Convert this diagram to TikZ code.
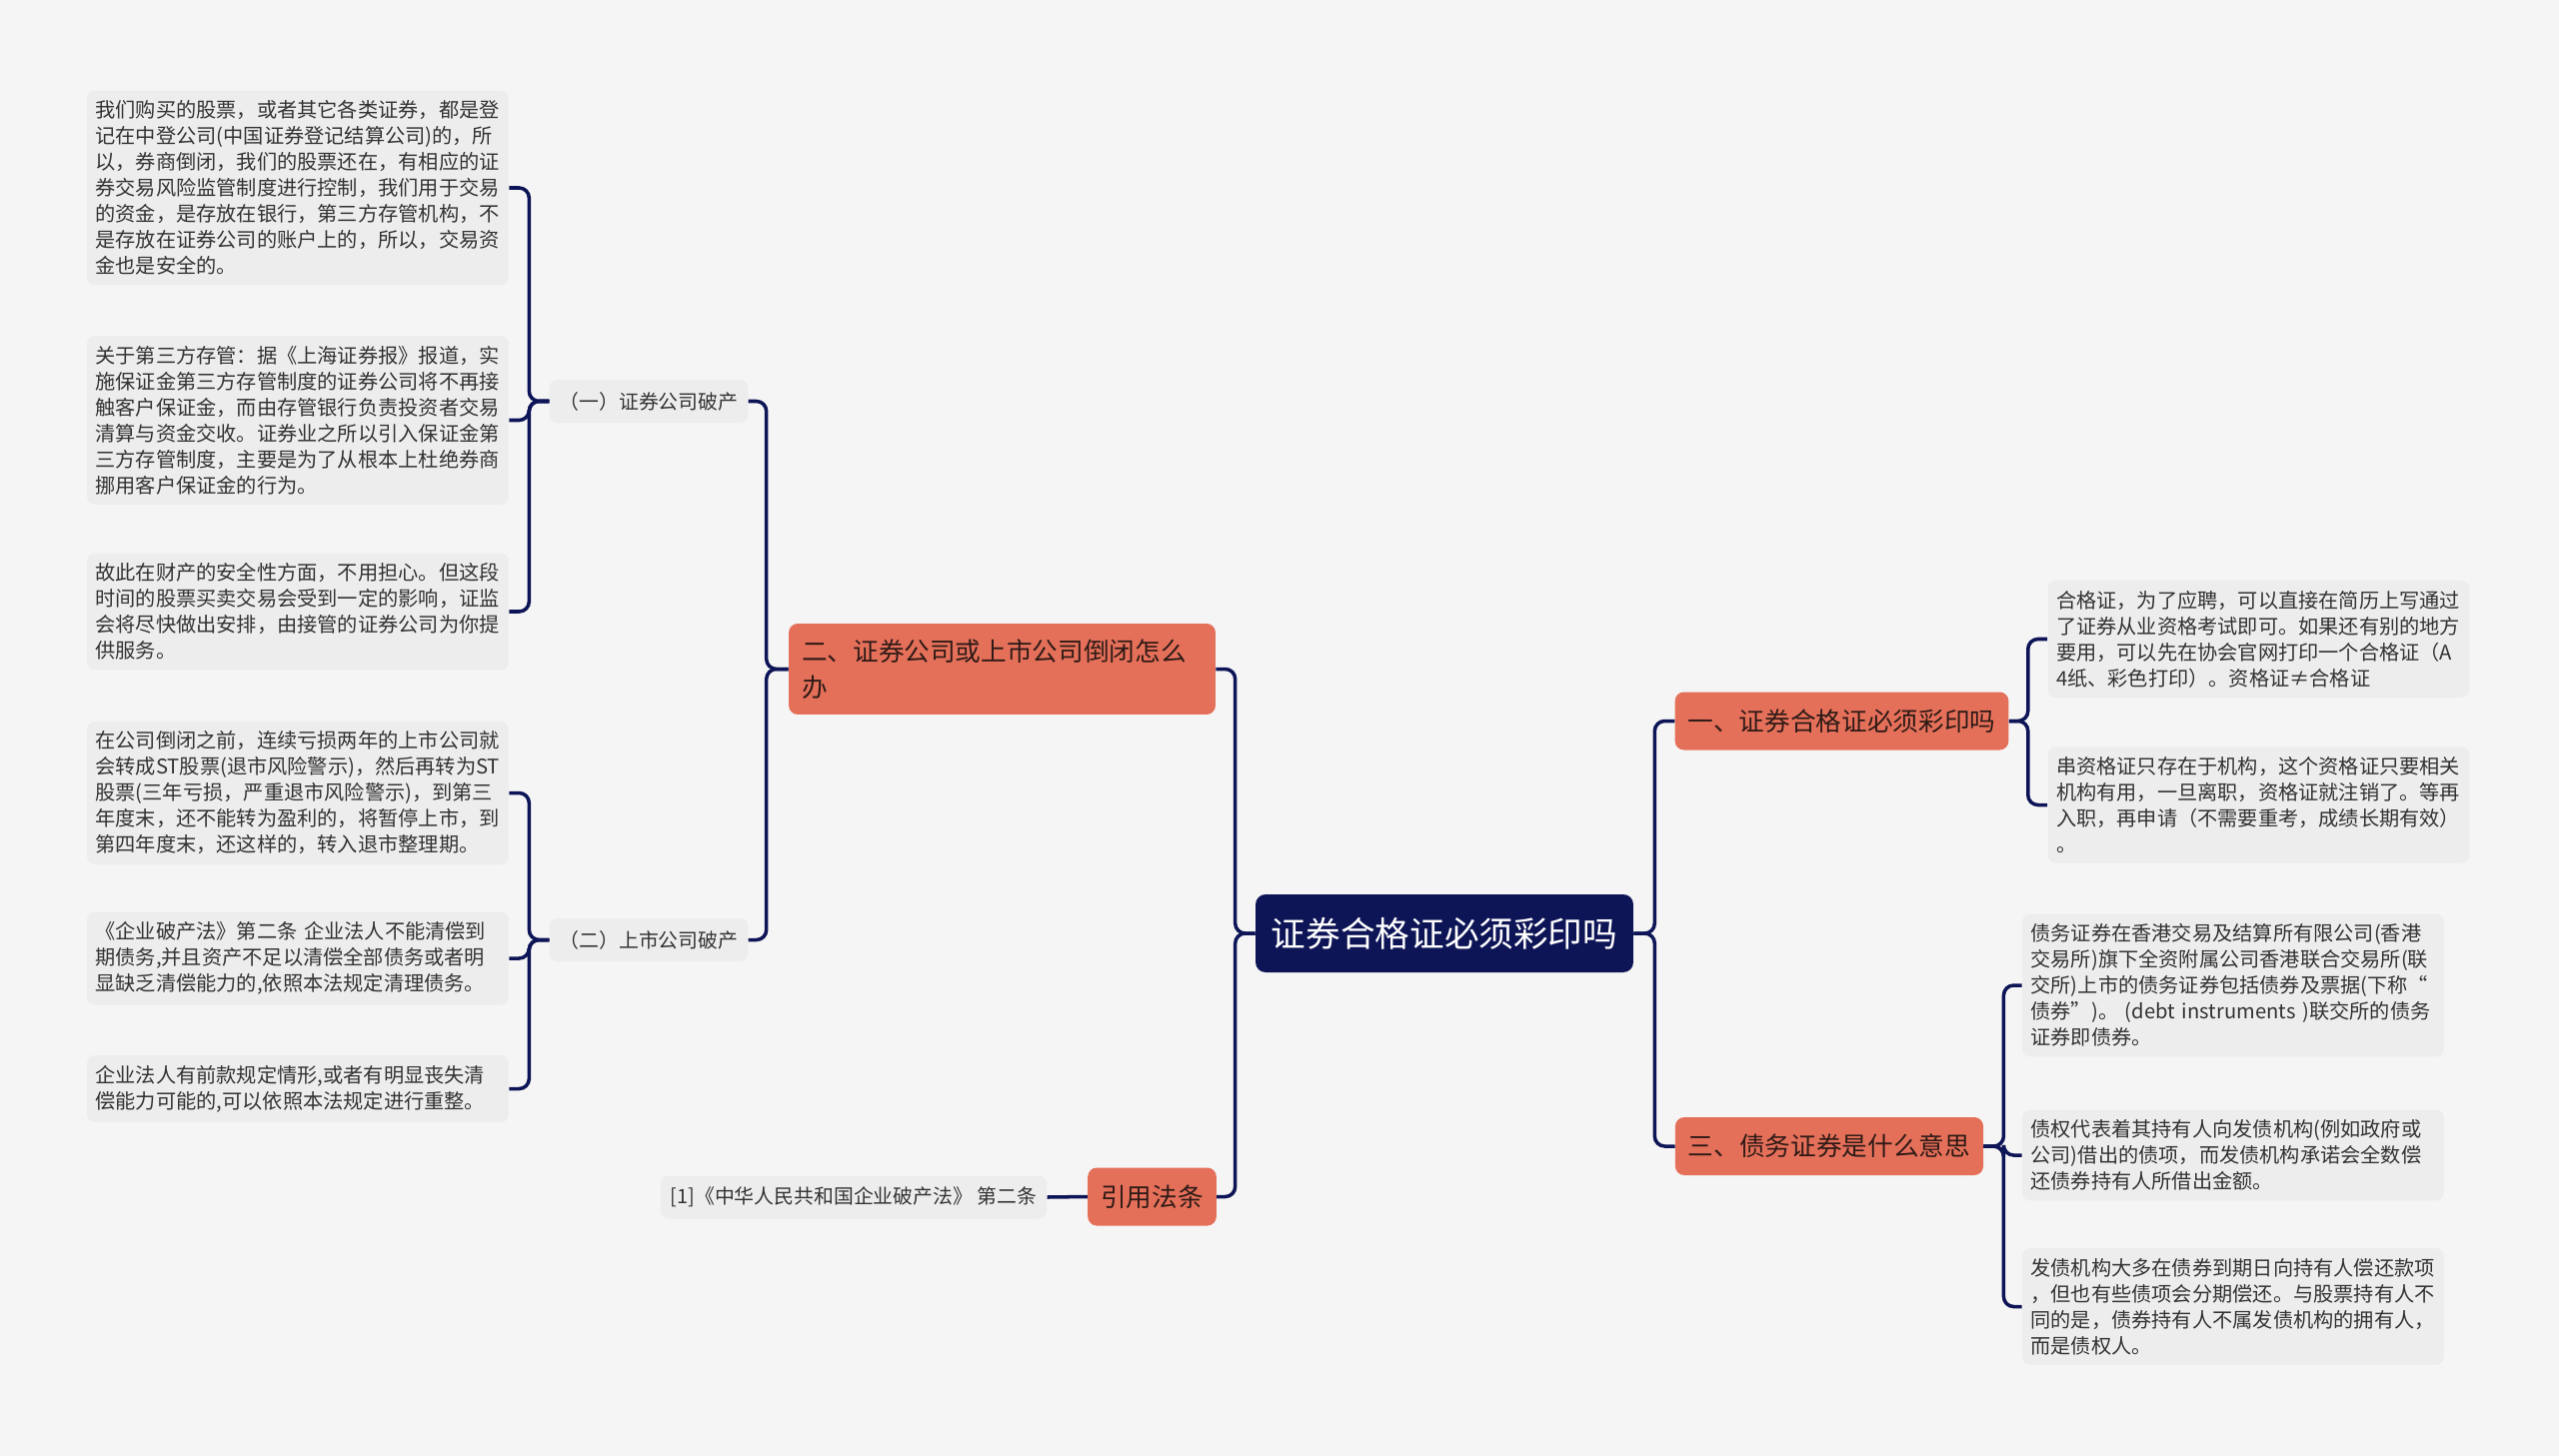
\documentclass[tikz,border=0pt]{standalone}
\usepackage{fontspec}
\setmainfont{Noto Sans CJK SC}
\definecolor{mynavy}{HTML}{0E1557}
\definecolor{myorange}{HTML}{E5705A}
\definecolor{mybg}{HTML}{F5F5F5}
\definecolor{myleaf}{HTML}{EDEDED}
\definecolor{mytext}{HTML}{333333}
\definecolor{mydark}{HTML}{2E1A16}
\usetikzlibrary{positioning, calc}
\tikzset{
	rootnode/.style={
			rectangle,
			rounded corners=0.2cm,
			fill=mynavy,
			text=white,
			minimum width=7.56cm,
			minimum height=1.56cm,
			font=\fontsize{19.7}{24}\selectfont
		},
	topicnode/.style={
			rectangle,
			rounded corners=0.18cm,
			fill=myorange,
			text=mydark,
			inner xsep=0.26cm,
			minimum height=1.16cm,
			font=\fontsize{14.6}{20.4}\selectfont
		},
	subnode/.style={
			rectangle,
			rounded corners=0.16cm,
			fill=myleaf,
			text=mytext,
			inner xsep=0.2cm,
			minimum height=0.86cm,
			font=\fontsize{11.3}{14.8}\selectfont
		},
	leafnode/.style={
			rectangle,
			rounded corners=0.16cm,
			fill=myleaf,
			text=mytext,
			text width=8.1cm,
			align=left,
			inner xsep=0.17cm,
			inner ysep=0.2cm,
			font=\fontsize{11.5}{14.8}\selectfont
		},
	link/.style={
			draw=mynavy,
			line width=2pt,
			rounded corners=0.2cm
		}
}
\begin{document}
\begin{tikzpicture}[x=0.02cm, y=-0.02cm]
\fill[mybg] (0,0) rectangle (2560,1457);
\useasboundingbox (0,0) rectangle (2560,1457);

\node[rootnode] (root) at (1445,934) {证券合格证必须彩印吗};

\node[topicnode, text width=8.02cm, align=left, minimum height=1.82cm] (t2) at (1002.5,669.5)
  {二、证券公司或上市公司倒闭怎么\\办};
\node[topicnode] (t4) at (1152.5,1197.5) {引用法条};
\node[topicnode] (t1) at (1842.5,721.5) {一、证券合格证必须彩印吗};
\node[topicnode] (t3) at (1830,1147) {三、债务证券是什么意思};

\node[subnode] (s1) at (649,401.5) {（一）证券公司破产};
\node[subnode] (s2) at (649,940.5) {（二）上市公司破产};
\node[subnode] (s3) at (854,1198) {[1]《中华人民共和国企业破产法》 第二条};

% left leaves
\node[leafnode] (l1) at (298,188) {我们购买的股票，或者其它各类证券，都是登\\记在中登公司(中国证券登记结算公司)的，所\\以，券商倒闭，我们的股票还在，有相应的证\\券交易风险监管制度进行控制，我们用于交易\\的资金，是存放在银行，第三方存管机构，不\\是存放在证券公司的账户上的，所以，交易资\\金也是安全的。};
\node[leafnode] (l2) at (298,420.5) {关于第三方存管：据《上海证券报》报道，实\\施保证金第三方存管制度的证券公司将不再接\\触客户保证金，而由存管银行负责投资者交易\\清算与资金交收。证券业之所以引入保证金第\\三方存管制度，主要是为了从根本上杜绝券商\\挪用客户保证金的行为。};
\node[leafnode] (l3) at (298,612) {故此在财产的安全性方面，不用担心。但这段\\时间的股票买卖交易会受到一定的影响，证监\\会将尽快做出安排，由接管的证券公司为你提\\供服务。};
\node[leafnode] (l4) at (298,793.5) {在公司倒闭之前，连续亏损两年的上市公司就\\会转成ST股票(退市风险警示)，然后再转为ST\\股票(三年亏损，严重退市风险警示)，到第三\\年度末，还不能转为盈利的，将暂停上市，到\\第四年度末，还这样的，转入退市整理期。};
\node[leafnode] (l5) at (298,959) {《企业破产法》第二条 企业法人不能清偿到\\期债务,并且资产不足以清偿全部债务或者明\\显缺乏清偿能力的,依照本法规定清理债务。};
\node[leafnode] (l6) at (298,1089.5) {企业法人有前款规定情形,或者有明显丧失清\\偿能力可能的,可以依照本法规定进行重整。};

% right leaves
\node[leafnode] (r1) at (2259.5,639.5) {合格证，为了应聘，可以直接在简历上写通过\\了证券从业资格考试即可。如果还有别的地方\\要用，可以先在协会官网打印一个合格证（A\\4纸、彩色打印）。资格证≠合格证};
\node[leafnode] (r2) at (2259.5,805.5) {串资格证只存在于机构，这个资格证只要相关\\机构有用，一旦离职，资格证就注销了。等再\\入职，再申请（不需要重考，成绩长期有效）\\。};
\node[leafnode] (r3) at (2234,986) {债务证券在香港交易及结算所有限公司(香港\\交易所)旗下全资附属公司香港联合交易所(联\\交所)上市的债务证券包括债券及票据(下称“\\债券”)。 (debt instruments )联交所的债务\\证券即债券。};
\node[leafnode] (r4) at (2234,1156) {债权代表着其持有人向发债机构(例如政府或\\公司)借出的债项，而发债机构承诺会全数偿\\还债券持有人所借出金额。};
\node[leafnode] (r5) at (2234,1307.5) {发债机构大多在债券到期日向持有人偿还款项\\，但也有些债项会分期偿还。与股票持有人不\\同的是，债券持有人不属发债机构的拥有人，\\而是债权人。};

% connectors
\draw[link] (root.west) -- ++(-20,0) |- (t2.east);
\draw[link] (root.west) -- ++(-20,0) |- (t4.east);
\draw[link] (root.east) -- ++(21,0) |- (t1.west);
\draw[link] (root.east) -- ++(21,0) |- (t3.west);

\draw[link] (t2.west) -- ++(-22,0) |- (s1.east);
\draw[link] (t2.west) -- ++(-22,0) |- (s2.east);
\draw[link] (t4.west) -- (s3.east);

\foreach \leaf in {l1,l2,l3}
  \draw[link] (s1.west) -- ++(-20,0) |- (\leaf.east);
\foreach \leaf in {l4,l5,l6}
  \draw[link] (s2.west) -- ++(-20,0) |- (\leaf.east);
\foreach \leaf in {r1,r2}
  \draw[link] (t1.east) -- ++(19,0) |- (\leaf.west);
\foreach \leaf in {r3,r4,r5}
  \draw[link] (t3.east) -- ++(20,0) |- (\leaf.west);
\end{tikzpicture}
\end{document}
